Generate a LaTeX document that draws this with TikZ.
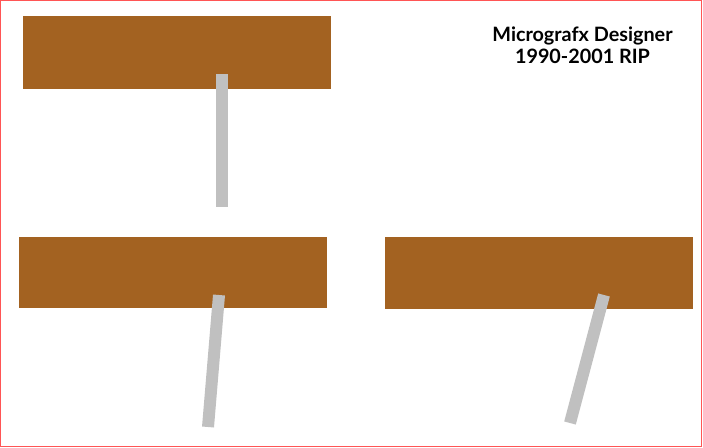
\documentclass[tikz,border=0pt]{standalone}
\usepackage{fontspec}
\newfontfamily\titlefont{Lato}
\usepackage{xcolor}
\usetikzlibrary{positioning}
\definecolor{plank}{RGB}{163,98,33}
\definecolor{stick}{RGB}{192,192,192}
\definecolor{frame}{RGB}{255,85,85}
\tikzset{
	board/.style = {fill = plank, inner sep = 0pt, minimum width = 308pt},
	post/.style = {draw = stick, line width = 12pt, line cap = butt},
}

\begin{document}
\begin{tikzpicture}[x = 1pt, y = -1pt]
		\useasboundingbox (0, 0) rectangle (703, 447);
		\draw [frame, line width = 1pt] (0.5, 0.5) rectangle (701.5, 446.5);

		\node [board, minimum height = 73pt] (board1) at (177, 52.5) {};
		\node [board, minimum height = 71pt] (board2) at (173, 272.5) {};
		\node [board, minimum height = 72pt] (board3) at (539, 273) {};

		\coordinate (top1) at (222, 74);
		\coordinate (foot1) at (222, 207);
		\coordinate (top2) at (219, 295);
		\coordinate (foot2) at (208, 427);
		\coordinate (top3) at (604, 295);
		\coordinate (foot3) at (570, 423);
		\draw [post] (top1) -- (foot1);
		\draw [post] (top2) -- (foot2);
		\draw [post] (top3) -- (foot3);

		\node [align = center, font = \titlefont\bfseries\fontsize{19.8}{22.5}\selectfont] (title) at (582.5, 45) {Micrografx Designer\\1990-2001 RIP};
	\end{tikzpicture}
\end{document}
